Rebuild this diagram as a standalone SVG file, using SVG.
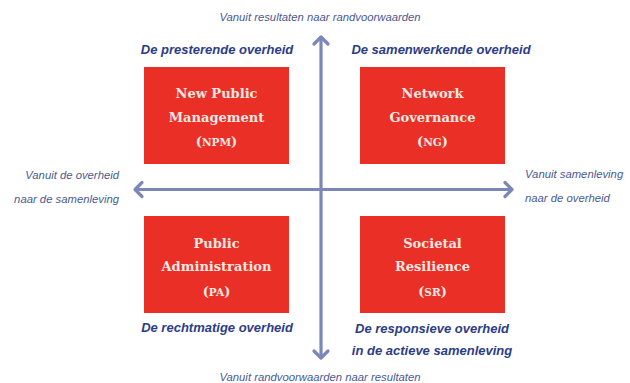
<svg xmlns="http://www.w3.org/2000/svg" width="630" height="383" viewBox="0 0 630 383">
<style>
.box{fill:#ea2f26}
.bt{font-family:"DejaVu Serif",serif;font-weight:bold;font-size:13px;fill:#fde8e2;text-anchor:middle}
.sc{font-size:10.5px}
.hd{font-family:"Liberation Sans",Arial,sans-serif;font-style:italic;font-weight:bold;font-size:13px;fill:#2c3d86}
.ax{font-family:"Liberation Sans",Arial,sans-serif;font-style:italic;font-size:11.3px;fill:#4a5a92}
.axis{stroke:#7b87b8;stroke-width:3.2;fill:none}
.head{stroke:#7b87b8;stroke-width:3.2;fill:none;stroke-linecap:round;stroke-linejoin:round}
</style>
<rect width="630" height="383" fill="#ffffff"/>
<g id="connectors">
<line class="axis" x1="321" y1="38" x2="321" y2="357"/>
<line class="axis" x1="136" y1="189.5" x2="511" y2="189.5"/>
<polyline class="head" points="314,44 321,37 328,44"/>
<polyline class="head" points="314,351 321,358 328,351"/>
<polyline class="head" points="142,182.5 135,189.5 142,196.5"/>
<polyline class="head" points="505,182.5 512,189.5 505,196.5"/>
</g>
<g id="npm">
<rect class="box" x="144" y="67" width="145" height="97"/>
<text class="bt" x="216.5" y="98">New Public</text>
<text class="bt" x="216.5" y="122">Management</text>
<text class="bt" x="216.5" y="146">(<tspan class="sc">NPM</tspan>)</text>
</g>
<g id="ng">
<rect class="box" x="360" y="67" width="145" height="97"/>
<text class="bt" x="432.5" y="98">Network</text>
<text class="bt" x="432.5" y="122">Governance</text>
<text class="bt" x="432.5" y="146">(<tspan class="sc">NG</tspan>)</text>
</g>
<g id="pa">
<rect class="box" x="144" y="216" width="145" height="97"/>
<text class="bt" x="216.5" y="248">Public</text>
<text class="bt" x="216.5" y="271">Administration</text>
<text class="bt" x="216.5" y="296">(<tspan class="sc">PA</tspan>)</text>
</g>
<g id="sr">
<rect class="box" x="360" y="216" width="145" height="97"/>
<text class="bt" x="432.5" y="248">Societal</text>
<text class="bt" x="432.5" y="271">Resilience</text>
<text class="bt" x="432.5" y="296">(<tspan class="sc">SR</tspan>)</text>
</g>
<g id="labels">
<text class="ax" x="320" y="21" text-anchor="middle">Vanuit resultaten naar randvoorwaarden</text>
<text class="ax" x="320" y="381" text-anchor="middle">Vanuit randvoorwaarden naar resultaten</text>
<text class="ax" x="119" y="179" text-anchor="end">Vanuit de overheid</text>
<text class="ax" x="119" y="203" text-anchor="end">naar de samenleving</text>
<text class="ax" x="525" y="178">Vanuit samenleving</text>
<text class="ax" x="525" y="202">naar de overheid</text>
<text class="hd" x="217" y="54" text-anchor="middle">De presterende overheid</text>
<text class="hd" x="441" y="54" text-anchor="middle">De samenwerkende overheid</text>
<text class="hd" x="217" y="332" text-anchor="middle">De rechtmatige overheid</text>
<text class="hd" x="432" y="333" text-anchor="middle">De responsieve overheid</text>
<text class="hd" x="432" y="355" text-anchor="middle">in de actieve samenleving</text>
</g>
</svg>
